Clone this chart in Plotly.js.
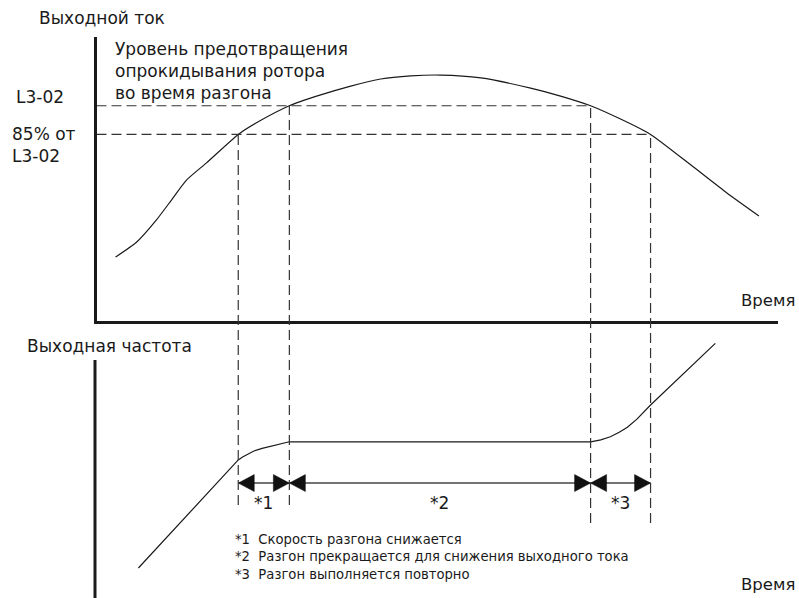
<!DOCTYPE html>
<html>
<head>
<meta charset="utf-8">
<script src="https://cdn.plot.ly/plotly-3.0.1.min.js"></script>
<style>html,body{margin:0;padding:0;background:#fff;}#chart{width:799px;height:598px;}</style>
</head>
<body>
<div id="chart"></div>
<script>
// ---------------- data ----------------
// time axis in arbitrary units 0..100
const eventTimes = [20.8, 28.3, 72.5, 81.3];          // t1 (85% reached), t2 (L3-02 reached), t3 (below L3-02), t4 (below 85%)
const levelL302 = 75.8;                               // stall prevention level (output current units)
const level85 = 65.7;                                 // 85% of L3-02
const levelNames = ['L3-02', '85% от<br>L3-02'];

const currentT = [2.8, 5.9, 8.8, 11.0, 13.2, 16.1, 20.8, 23.4, 28.3, 32.9, 37.3, 41.7, 46.1, 50.5, 56.4, 63.7, 68.1, 72.5, 76.9, 81.3, 87.6, 92.5, 97.2];
const currentY = [22.5, 27.8, 35.6, 42.6, 49.6, 55.6, 65.7, 69.7, 75.8, 79.6, 82.7, 85.2, 86.3, 86.6, 85.6, 82.0, 79.2, 75.8, 71.1, 65.7, 54.2, 45.1, 37.0];

const freqT = [6.15, 20.8, 21.5, 22.3, 23.1, 24.3, 25.6, 26.9, 28.3, 72.5, 74.0, 75.4, 76.7, 77.9, 78.7, 79.3, 81.3, 90.8];
const freqY = [11.4, 52.5, 53.7, 54.9, 55.9, 56.9, 57.8, 58.6, 59.4, 59.4, 60.1, 61.3, 63.0, 64.9, 66.5, 68.0, 73.4, 96.8];

const intervalLabels = ['*1', '*2', '*3'];
const noteLines = [
  '*1\u00A0\u00A0Скорость разгона снижается',
  '*2\u00A0\u00A0Разгон прекращается для снижения выходного тока',
  '*3\u00A0\u00A0Разгон выполняется повторно'
];
const topTitle = 'Выходной ток';
const bottomTitle = 'Выходная частота';
const timeLabel = 'Время';
const levelNote = 'Уровень предотвращения<br>опрокидывания ротора<br>во время разгона';

// ---------------- layout geometry (style) ----------------
const W = 799, H = 598;
const xDom = [96.5 / W, 778 / W];
const yDom = [(H - 321) / H, (H - 37) / H];
const y2Dom = [0, (H - 335) / H];
const xRange = [0, 100], yRange = [0, 100], y2Range = [0, 100];
const arrowLevel = 43.7;                 // y2 position of the interval arrows
const dashBottom = [35.4, 35.4, 28.5, 28.5]; // y2 ends of the vertical guide lines
const labelLevel = 36.1;

const FONT = 'DejaVu Sans, Liberation Sans, Arial, sans-serif';
const INK = '#1a1a1a';
const DASH = '10px,5px';

function paperY(v, dom, rng) { return dom[0] + (v - rng[0]) / (rng[1] - rng[0]) * (dom[1] - dom[0]); }
const pxX = (x) => x / W;
const pxY = (y) => 1 - y / H;

const traces = [];

// output current curve
traces.push({x: currentT, y: currentY, xaxis: 'x', yaxis: 'y', mode: 'lines',
  line: {color: INK, width: 1.2, shape: 'spline', smoothing: 0.6}, hoverinfo: 'skip'});

// horizontal dashed level lines
traces.push({x: [xRange[0], eventTimes[2]], y: [levelL302, levelL302], xaxis: 'x', yaxis: 'y', mode: 'lines',
  line: {color: '#333', width: 1.2, dash: DASH}, hoverinfo: 'skip'});
traces.push({x: [xRange[0], eventTimes[3]], y: [level85, level85], xaxis: 'x', yaxis: 'y', mode: 'lines',
  line: {color: '#333', width: 1.2, dash: DASH}, hoverinfo: 'skip'});

// output frequency curve
traces.push({x: freqT, y: freqY, xaxis: 'x', yaxis: 'y2', mode: 'lines',
  line: {color: INK, width: 1.2}, hoverinfo: 'skip'});

// interval arrow line
traces.push({x: [eventTimes[0], eventTimes[3]], y: [arrowLevel, arrowLevel], xaxis: 'x', yaxis: 'y2', mode: 'lines',
  line: {color: '#444', width: 1.4}, hoverinfo: 'skip'});

// arrow heads (filled triangles) built from the event times
const dxPerPx = (xRange[1] - xRange[0]) / ((xDom[1] - xDom[0]) * W);
const dyPerPx = (y2Range[1] - y2Range[0]) / ((y2Dom[1] - y2Dom[0]) * H);
const headLen = 16, headHalf = 8.5;
const triX = [], triY = [];
for (let i = 0; i < eventTimes.length - 1; i++) {
  const a = eventTimes[i], b = eventTimes[i + 1];
  triX.push(a, a + headLen * dxPerPx, a + headLen * dxPerPx, a, null);
  triY.push(arrowLevel, arrowLevel + headHalf * dyPerPx, arrowLevel - headHalf * dyPerPx, arrowLevel, null);
  triX.push(b, b - headLen * dxPerPx, b - headLen * dxPerPx, b, null);
  triY.push(arrowLevel, arrowLevel + headHalf * dyPerPx, arrowLevel - headHalf * dyPerPx, arrowLevel, null);
}
traces.push({x: triX, y: triY, xaxis: 'x', yaxis: 'y2', mode: 'lines', fill: 'toself',
  fillcolor: '#111', line: {color: '#111', width: 0.5}, hoverinfo: 'skip'});

// vertical dashed guide lines crossing both panels
const tops = [level85, levelL302, levelL302, level85];
const shapes = eventTimes.map((t, i) => ({
  type: 'line', xref: 'x', yref: 'paper', x0: t, x1: t,
  y0: paperY(dashBottom[i], y2Dom, y2Range), y1: paperY(tops[i], yDom, yRange),
  line: {color: '#333', width: 1.2, dash: DASH}
}));
// vertical axis line of the lower panel
shapes.push({type: 'line', xref: 'paper', yref: 'paper', x0: pxX(95), x1: pxX(95), y0: 0, y1: pxY(360),
  line: {color: INK, width: 3}});

const annotations = [];
const txt = (text, x, y, size, xanchor, yanchor) => ({
  text: text, x: x, y: y, xref: 'paper', yref: 'paper', showarrow: false,
  xanchor: xanchor || 'left', yanchor: yanchor || 'middle', align: 'left',
  font: {family: FONT, size: size, color: INK}
});

annotations.push(txt(topTitle, pxX(37), pxY(18), 17));
annotations.push(txt(bottomTitle, pxX(25), pxY(346), 17));
annotations.push(txt(timeLabel, pxX(797), pxY(300), 16.5, 'right'));
annotations.push(txt(timeLabel, pxX(797), pxY(584), 16.5, 'right'));
annotations.push(txt(levelNote, pxX(113), pxY(37), 17, 'left', 'top'));
annotations.push(txt(levelNames[0], pxX(14), pxY(97), 17));
annotations.push(txt(levelNames[1], pxX(10), pxY(145), 17));
noteLines.forEach((s, i) => annotations.push(txt(s, pxX(233), pxY(539 + i * 17.5), 13.2)));
intervalLabels.forEach((s, i) => annotations.push({
  text: s, x: (eventTimes[i] + eventTimes[i + 1]) / 2, y: labelLevel, xref: 'x', yref: 'y2',
  showarrow: false, xanchor: 'center', yanchor: 'middle', font: {family: FONT, size: 17, color: INK}
}));

const axisCommon = {showgrid: false, zeroline: false, showticklabels: false, ticks: '', fixedrange: true};
const layout = {
  width: W, height: H, margin: {l: 0, r: 0, t: 0, b: 0},
  paper_bgcolor: '#fff', plot_bgcolor: 'rgba(0,0,0,0)', showlegend: false, hovermode: false,
  xaxis: Object.assign({}, axisCommon, {domain: xDom, range: xRange, anchor: 'y', showline: true, linecolor: INK, linewidth: 3}),
  yaxis: Object.assign({}, axisCommon, {domain: yDom, range: yRange, anchor: 'x', showline: true, linecolor: INK, linewidth: 3}),
  yaxis2: Object.assign({}, axisCommon, {domain: y2Dom, range: y2Range, anchor: 'x', showline: false}),
  shapes: shapes, annotations: annotations
};
Plotly.newPlot('chart', traces, layout, {displayModeBar: false, staticPlot: true});
</script>
</body>
</html>
